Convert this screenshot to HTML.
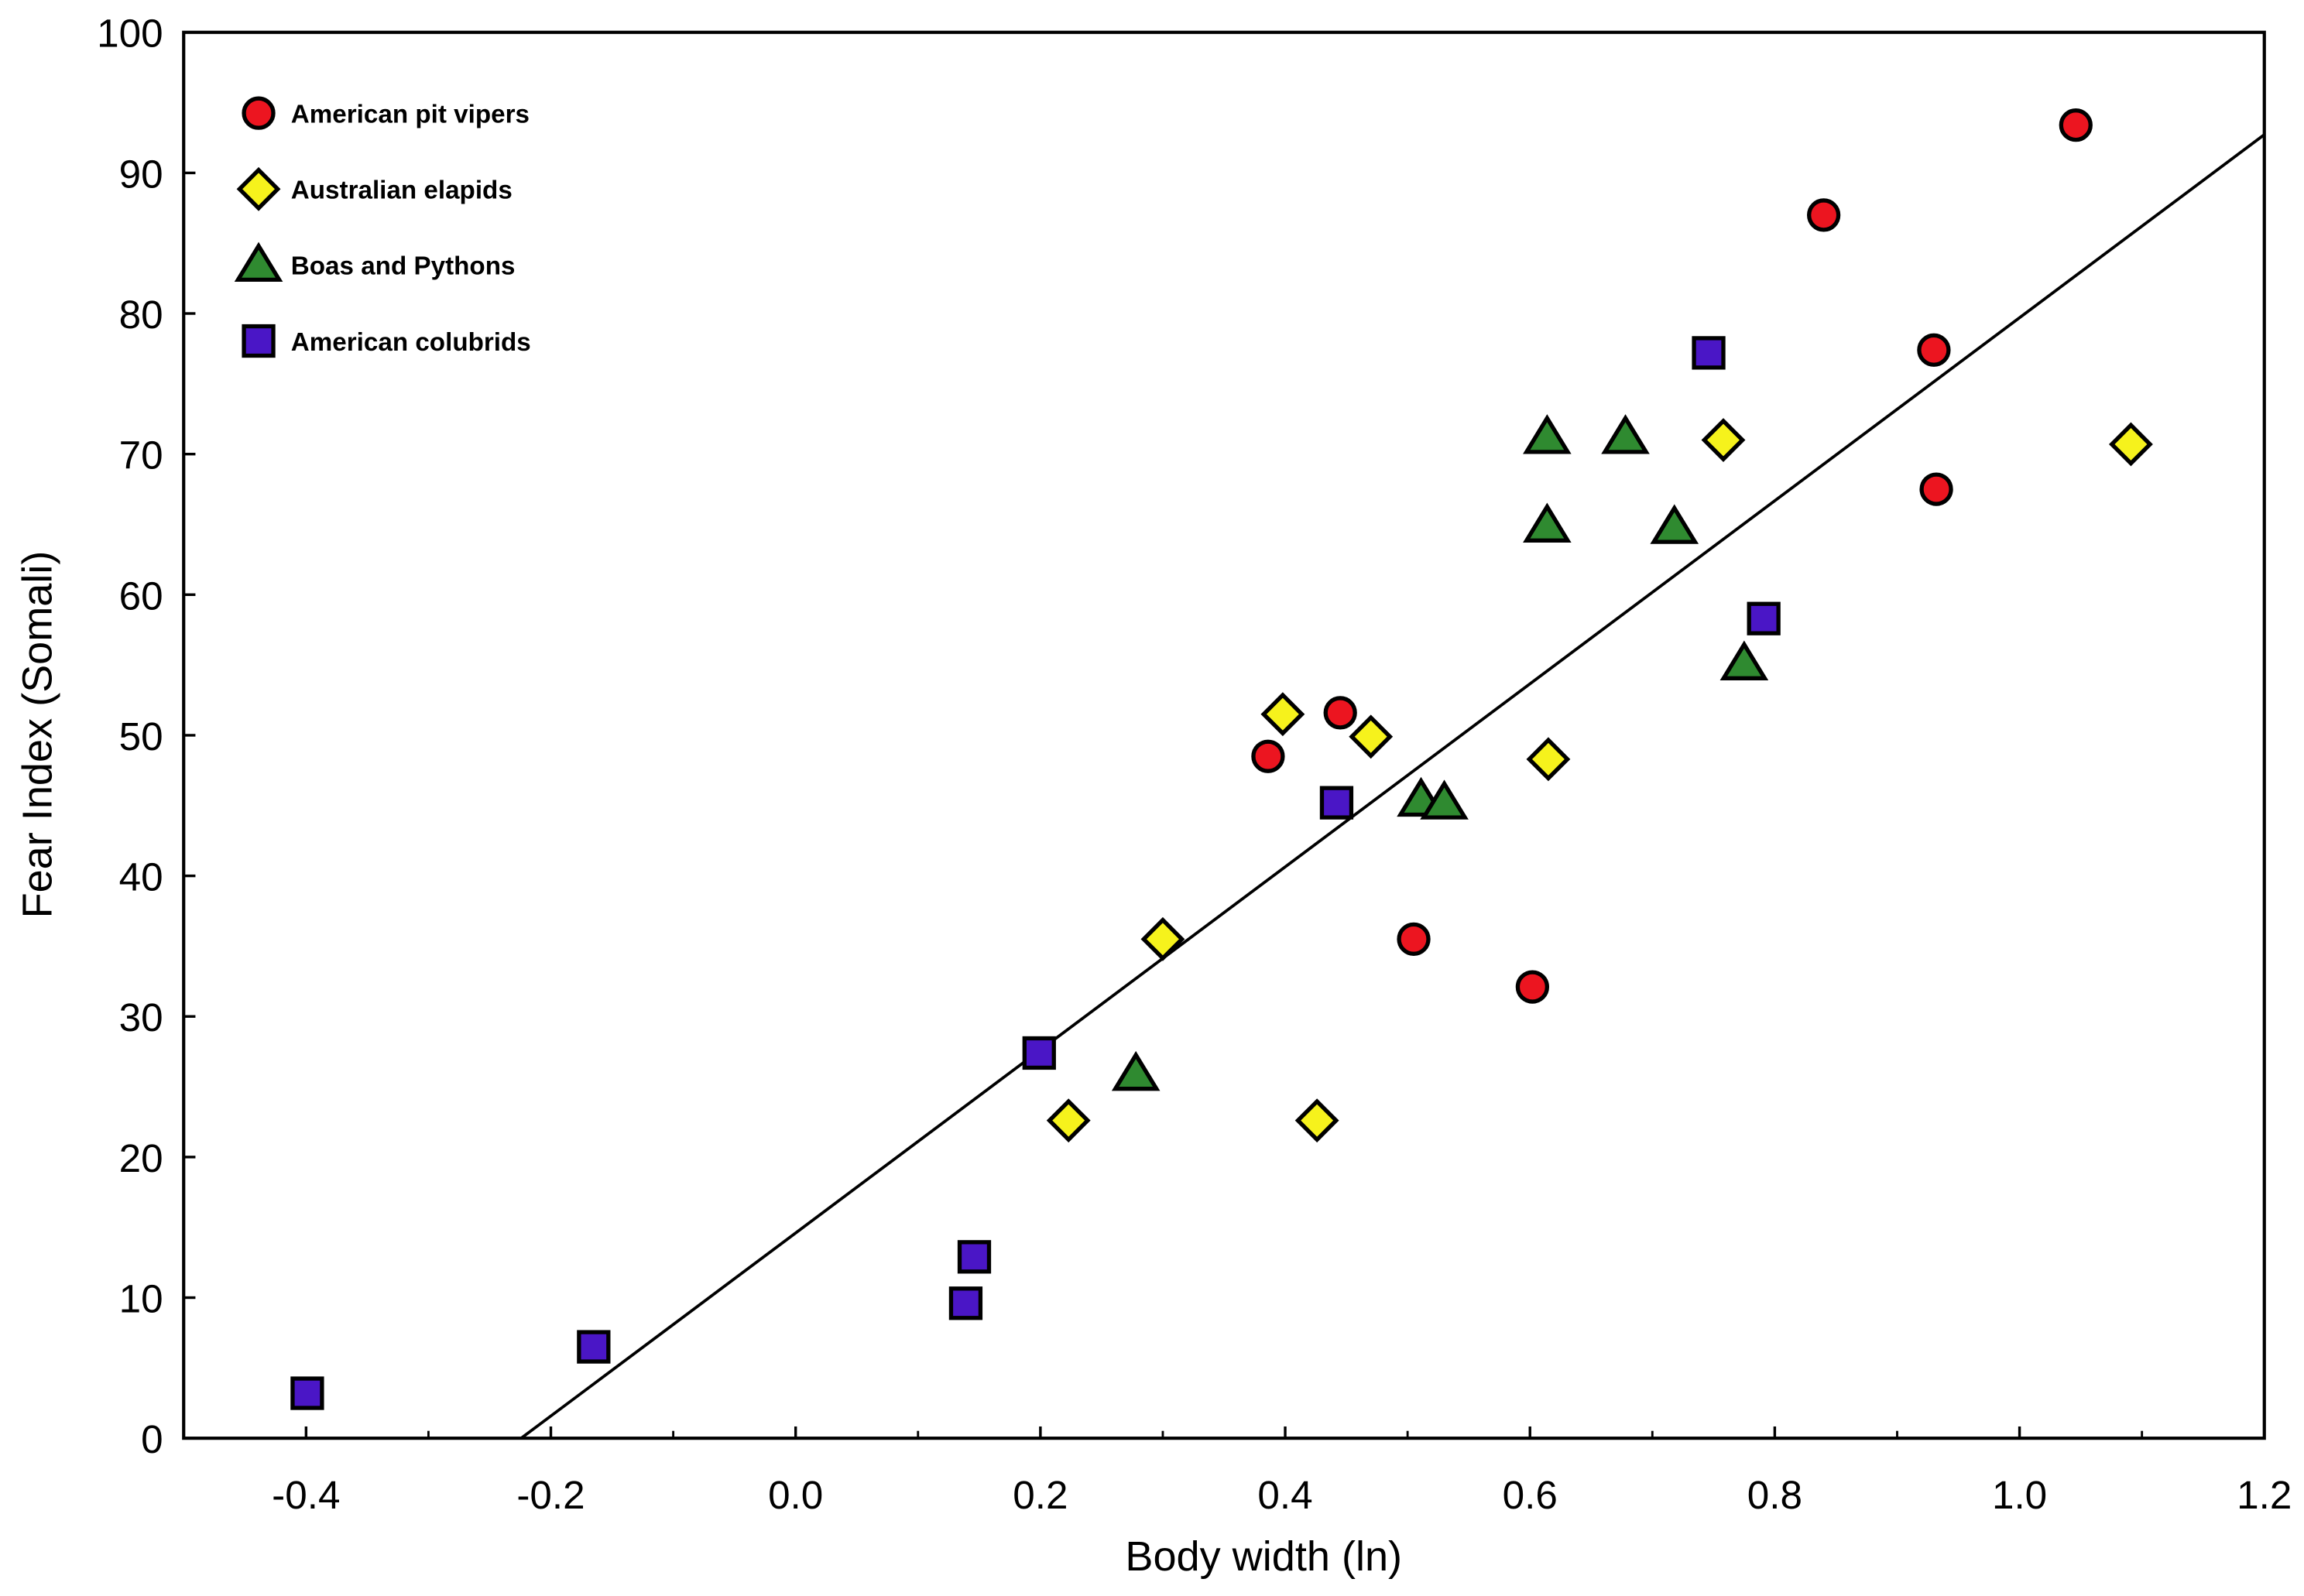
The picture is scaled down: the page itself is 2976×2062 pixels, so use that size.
<!DOCTYPE html>
<html><head><meta charset="utf-8"><style>html,body{margin:0;padding:0;background:#fff}svg{display:block}</style></head>
<body>
<svg id="chart" xmlns="http://www.w3.org/2000/svg" width="2976" height="2062" viewBox="0 0 1568 1086.4" preserveAspectRatio="none" font-family="'Liberation Sans', Arial, sans-serif">
<rect width="1568" height="1087" fill="#fff"/>
<g id="axes"></g>
<g id="marks"></g>
<g id="legend"></g>
</svg>
<script>
const xTicks = [-0.4, -0.2, 0.0, 0.2, 0.4, 0.6, 0.8, 1.0, 1.2];
const xTickLabels = ["-0.4", "-0.2", "0.0", "0.2", "0.4", "0.6", "0.8", "1.0", "1.2"];
const yTicks = [0, 10, 20, 30, 40, 50, 60, 70, 80, 90, 100];
const vipersX = [1.046, 0.840, 0.930, 0.932, 0.445, 0.386, 0.505, 0.602];
const vipersY = [93.4, 87.0, 77.4, 67.5, 51.6, 48.5, 35.5, 32.1];
const elapidsX = [1.091, 0.758, 0.398, 0.470, 0.615, 0.300, 0.223, 0.426];
const elapidsY = [70.7, 71.0, 51.5, 49.9, 48.3, 35.5, 22.6, 22.6];
const boasX = [0.614, 0.678, 0.614, 0.718, 0.775, 0.511, 0.530, 0.278];
const boasY = [71.2, 71.2, 64.9, 64.8, 55.1, 45.4, 45.2, 25.9];
const colubridsX = [0.746, 0.791, 0.442, 0.199, 0.146, 0.139, -0.165, -0.399];
const colubridsY = [77.2, 58.3, 45.2, 27.4, 12.9, 9.6, 6.5, 3.2];
const fitSlope = 65.1;
const fitIntercept = 14.6;

const NS = "http://www.w3.org/2000/svg";
const L = 125, R = 1541, T = 22, B = 979;
const xMin = -0.5, xMax = 1.2, yMin = 0, yMax = 100;
const sx = v => L + (v - xMin) / (xMax - xMin) * (R - L);
const sy = v => B - (v - yMin) / (yMax - yMin) * (B - T);
function mk(tag, attrs, parent) {
  const e = document.createElementNS(NS, tag);
  for (const k in attrs) e.setAttribute(k, attrs[k]);
  parent.appendChild(e);
  return e;
}
const axes = document.getElementById('axes');
const marks = document.getElementById('marks');
const legend = document.getElementById('legend');

const frame = mk('rect', {x: L, y: T, width: R - L, height: B - T, fill: 'none', stroke: '#000', 'stroke-width': 2.2}, axes);



xTicks.forEach((v, i) => {
  const x = sx(v);
  const t = mk('line', {x1: x, y1: B, x2: x, y2: B - 8, stroke: '#000', 'stroke-width': 1.8}, axes);
  
  
  const mx = sx(v - 0.1);
  const m = mk('line', {x1: mx, y1: B, x2: mx, y2: B - 5, stroke: '#000', 'stroke-width': 1.5}, axes);
  
  
  const lb = mk('text', {x: x, y: 1027, 'font-size': 27, 'text-anchor': 'middle', fill: '#000'}, axes);
  lb.textContent = xTickLabels[i];
  
  
});
yTicks.forEach(v => {
  const y = sy(v);
  const t = mk('line', {x1: L, y1: y, x2: L + 8, y2: y, stroke: '#000', 'stroke-width': 1.8}, axes);
  
  
  const lb = mk('text', {x: 111, y: y + 10, 'font-size': 27, 'text-anchor': 'end', fill: '#000'}, axes);
  lb.textContent = String(v);
  
  
});
const xt = mk('text', {x: 860, y: 1069, 'font-size': 28.5, 'text-anchor': 'middle', fill: '#000'}, axes);
xt.textContent = 'Body width (ln)';


const yt = mk('text', {x: 0, y: 0, 'font-size': 28.5, 'text-anchor': 'middle', fill: '#000', transform: 'translate(35,500) rotate(-90)'}, axes);
yt.textContent = 'Fear Index (Somali)';



const x0 = -fitIntercept / fitSlope;
const fit = mk('line', {x1: sx(x0), y1: sy(0), x2: sx(xMax), y2: sy(fitSlope * xMax + fitIntercept), stroke: '#000', 'stroke-width': 2}, marks);



function marker(shape, cx, cy, parent) {
  const sw = 2.8;
  if (shape === 'circle') return mk('circle', {cx, cy, r: 10, fill: '#ec1520', stroke: '#000', 'stroke-width': sw}, parent);
  if (shape === 'diamond') return mk('polygon', {points: `${cx},${cy-13} ${cx+13},${cy} ${cx},${cy+13} ${cx-13},${cy}`, fill: '#f6f21c', stroke: '#000', 'stroke-width': sw}, parent);
  if (shape === 'triangle') return mk('polygon', {points: `${cx},${cy-13} ${cx+14},${cy+10} ${cx-14},${cy+10}`, fill: '#2f8a30', stroke: '#000', 'stroke-width': sw}, parent);
  return mk('rect', {x: cx - 10, y: cy - 10, width: 20, height: 20, fill: '#4a16c6', stroke: '#000', 'stroke-width': sw}, parent);
}
[[vipersX, vipersY, 'circle', 'pit-viper-point'],
 [elapidsX, elapidsY, 'diamond', 'elapid-point'],
 [boasX, boasY, 'triangle', 'boa-python-point'],
 [colubridsX, colubridsY, 'square', 'colubrid-point']].forEach(([xs, ys, shape, name]) => {
  xs.forEach((v, i) => {
    const el = marker(shape, sx(v), sy(ys[i]), marks);
    
    
  });
});

const legendNames = ['American pit vipers', 'Australian elapids', 'Boas and Pythons', 'American colubrids'];
const legendShapes = ['circle', 'diamond', 'triangle', 'square'];
legendNames.forEach((n, i) => {
  const y = 77 + i * 51.7;
  const m = marker(legendShapes[i], 176, y, legend);
  
  
  const t = mk('text', {x: 198, y: y + 6.5, 'font-size': 17.5, 'font-weight': 'bold', fill: '#000'}, legend);
  t.textContent = n;
  
  
});
</script>
</body></html>
